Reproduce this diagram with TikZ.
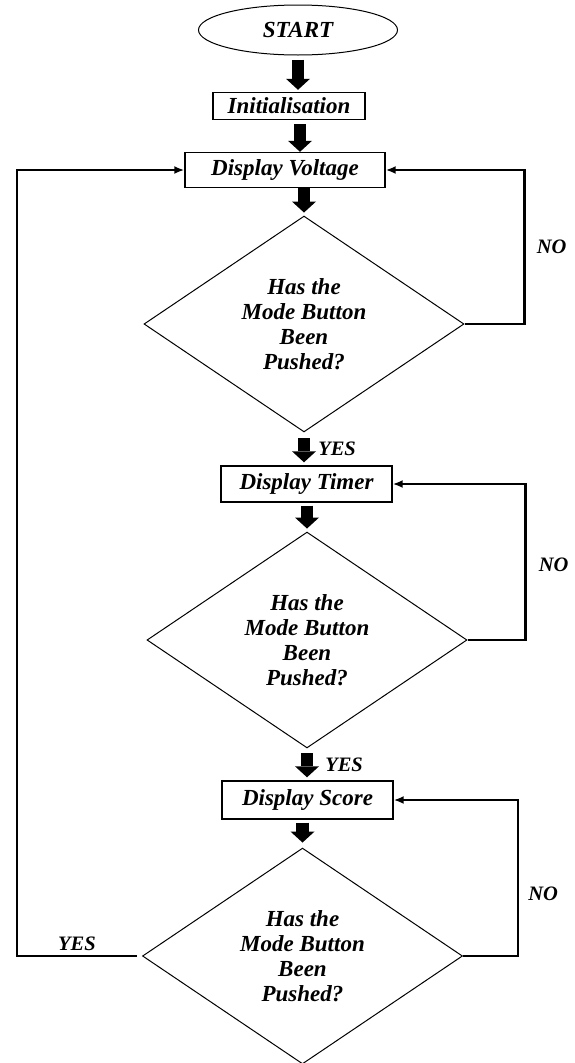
\documentclass[tikz,border=0pt]{standalone}
\usepackage{fontspec}
\setmainfont{Liberation Serif}
\usepackage{tikz}
\usetikzlibrary{positioning, shapes.geometric, calc, arrows.meta}
\tikzset{
    base/.style={
        font=\fontsize{23}{25}\selectfont\bfseries\itshape,
        align=center
    },
    terminal/.style={
        base,
        ellipse,
        draw,
        line width=1pt,
        inner sep=0pt,
        minimum width=199pt,
        minimum height=50pt
    },
    process/.style={
        base,
        rectangle,
        draw,
        line width=1.4pt,
        inner sep=0pt
    },
    decision/.style={
        base,
        diamond,
        draw,
        line width=1pt,
        inner sep=0pt,
        minimum width=320pt,
        minimum height=215pt
    },
    bigflow/.style={
        line width=12.5pt,
        -{Triangle[length=11pt, width=24pt, line width=0pt]},
        shorten <=3pt,
        shorten >=3pt
    },
    loopflow/.style={
        line width=2.6pt,
        -{Latex[length=10pt, width=8pt]}
    },
    answer/.style={
        font=\fontsize{20.5}{22}\selectfont\bfseries\itshape,
        inner sep=0pt
    }
}

\begin{document}
\begin{tikzpicture}[x=1pt, y=-1pt]
    \useasboundingbox (0,0) rectangle (574,1063);

    % Blocks
    \node[terminal] (start) at (298,30) {START};
    \node[process, minimum width=152pt, minimum height=27pt] (init) at (289,106) {Initialisation};
    \node[process, minimum width=200pt, minimum height=35pt] (volt) at (285,170) {Display Voltage};
    \node[decision] (askone) at (304,324) {Has the\\Mode Button\\Been\\Pushed?};
    \node[process, minimum width=171pt, minimum height=36pt] (timer) at (306.5,484) {Display Timer};
    \node[decision] (asktwo) at (307,640) {Has the\\Mode Button\\Been\\Pushed?};
    \node[process, minimum width=171pt, minimum height=38pt] (score) at (307.5,800) {Display Score};
    \node[decision] (askthree) at (302.5,956) {Has the\\Mode Button\\Been\\Pushed?};
    \coordinate (leftrail) at (17,0);

    % Main flow
    \draw[bigflow, shorten <=4pt, shorten >=2pt] (start.south) -- (start.south |- init.north);
    \draw[bigflow, shorten <=4pt, shorten >=0pt] ([xshift=11pt]init.south) -- ([xshift=11pt]init.south |- volt.north);
    \draw[bigflow, shorten <=0pt] (volt.south -| askone.north) -- (askone.north);
    \draw[bigflow, shorten <=6pt] (askone.south) -- node[answer, anchor=west, xshift=8pt] {YES} (askone.south |- timer.north);
    \draw[bigflow] (timer.south -| asktwo.north) -- (asktwo.north);
    \draw[bigflow, shorten <=5pt] (asktwo.south) -- node[answer, anchor=west, xshift=12pt] {YES} (asktwo.south |- score.north);
    \draw[bigflow, shorten >=5pt] (score.south -| askthree.north) -- (askthree.north);

    % Loops back
    \draw[loopflow] (askone.east) -- ++(60,0) |- node[answer, pos=0.25, anchor=west, xshift=11pt] {NO} (volt.east);
    \draw[loopflow] (asktwo.east) -- ++(58,0) |- node[answer, pos=0.24, anchor=west, xshift=12pt] {NO} (timer.east);
    \draw[loopflow] (askthree.east) -- ++(55,0) |- node[answer, pos=0.2, anchor=west, xshift=9pt] {NO} (score.east);
    \draw[loopflow] ([xshift=-5pt]askthree.west) -| node[answer, pos=0.25, anchor=south, yshift=4pt] {YES} (leftrail |- volt.west) -- (volt.west);

\end{tikzpicture}
\end{document}
